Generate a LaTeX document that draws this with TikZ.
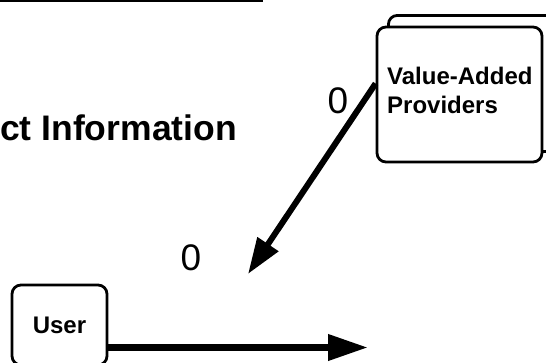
\documentclass[tikz,border=0pt]{standalone}
\usepackage{fontspec}
\setmainfont{Liberation Sans}
\usetikzlibrary{arrows.meta}
\begin{document}
\begin{tikzpicture}[x=1pt,y=-1pt,
  box/.style={draw, line width=2.8pt, rounded corners=9pt, fill=white, inner sep=0pt},
  lbl/.style={font=\fontsize{24}{29}\selectfont\bfseries, align=left, inner sep=0pt},
  num/.style={font=\fontsize{37}{40}\selectfont, inner sep=0pt},
  conn/.style={line width=6pt, -{Triangle[length=36pt,width=24pt]}},
  hconn/.style={line width=7pt, -{Triangle[length=40pt,width=25pt]}}]
\useasboundingbox (0,0) rectangle (546,362);
\clip (0,0) rectangle (546,362);
% top rule
\coordinate (r1) at (0,0.5);
\coordinate (r2) at (263,0.5);
\draw[line width=3pt] (r1) -- (r2);
% title
\node[anchor=base west, inner sep=0pt, font=\fontsize{35.5}{40}\selectfont\bfseries] (title) at (0,140) {ct Information};
% stacked provider box
\node[box, minimum width=190pt, minimum height=136pt, anchor=north west] (back) at (387,14) {};
\node[box, minimum width=165pt, minimum height=135pt] (va) at (459.5,94.5) {};
\node[lbl, anchor=north west] (vatext) at (387,67) {Value-Added\\Providers};
% user box
\node[box, font=\fontsize{24}{29}\selectfont\bfseries, minimum width=95pt, minimum height=80pt] (user) at (59.5,325) {User};
% connectors
\coordinate (dtip) at (248,274);
\draw[conn] ([yshift=11pt]va.west) -- (dtip);
\coordinate (htip) at (368,347.5);
\draw[hconn] (user.east |- htip) -- (htip);
% labels
\node[num] (n1) at (338,101) {0};
\node[num] (n2) at (191,258) {0};
\end{tikzpicture}
\end{document}
